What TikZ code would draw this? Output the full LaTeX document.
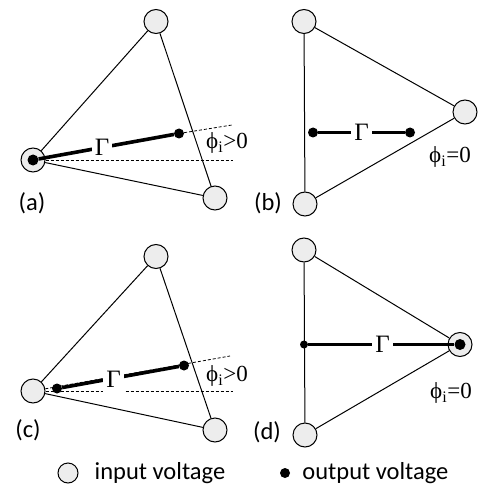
\documentclass[tikz,border=0pt]{standalone}
\usepackage{fontspec}
\setmainfont{Carlito}
\newfontfamily\greekfont{Liberation Serif}
\usetikzlibrary{positioning}

\begin{document}
\begin{tikzpicture}[x=1pt,y=-1pt,
  vin/.style={circle,draw,line width=1pt,fill=black!7,minimum size=24pt,inner sep=0pt},
  vout/.style={circle,fill=black,minimum size=10pt,inner sep=0pt},
  edge/.style={line width=1pt},
  gline/.style={line width=3.6pt},
  guide/.style={line width=0.8pt,dash pattern=on 3pt off 2pt},
  gam/.style={font=\greekfont\fontsize{25}{27}\selectfont,fill=white,inner ysep=0pt,inner xsep=3pt},
  phase/.style={font=\greekfont\fontsize{23}{25}\selectfont,inner sep=0pt},
  tag/.style={font=\fontsize{24.5}{28}\selectfont,inner sep=0pt}]
  \useasboundingbox (0,0) rectangle (477,489);

  % (a)
  \node[vin] (A1) at (156,21.5) {};
  \node[vin] (A2) at (33,160) {};
  \node[vin] (A3) at (215,198) {};
  \coordinate (aH) at (233,160);
  \coordinate (aS) at (232,125);
  \draw[edge] (A1) -- (A2) -- (A3) -- (A1);
  \draw[guide] (A2) -- (aH);
  \node[vout,minimum size=11pt] (a0) at (A2) {};
  \node[vout] (a1) at (179,133.5) {};
  \draw[guide] (a1) -- (aS);
  \draw[gline] (a0) -- node[gam,pos=0.47]{Γ} (a1);
  \node[phase] (pa) at (227,143) {ϕ\textsubscript{i}>0};
  \node[tag] (la) at (32,203) {(a)};

  % (b)
  \node[vin] (B1) at (304,21.5) {};
  \node[vin] (B2) at (465,112) {};
  \node[vin] (B3) at (305,204) {};
  \draw[edge] (B1) -- (B2) -- (B3) -- (B1);
  \node[vout] (b0) at (313,132.5) {};
  \node[vout] (b1) at (410,132.5) {};
  \draw[gline] (b0) -- node[gam]{Γ} (b1);
  \node[phase] (pb) at (450,157) {ϕ\textsubscript{i}=0};
  \node[tag] (lb) at (268,203) {(b)};

  % (c)
  \node[vin] (C1) at (156,256.5) {};
  \node[vin] (C2) at (33,391) {};
  \node[vin] (C3) at (215,430) {};
  \coordinate (cH) at (233,391);
  \coordinate (cS) at (230,356);
  \draw[edge] (C1) -- (C2) -- (C3) -- (C1);
  \draw[guide] (C2) -- (cH);
  \draw[guide] (C2) -- (cS);
  \node[vout] (c0) at (57,388.5) {};
  \node[vout] (c1) at (184,365.5) {};
  \draw[gline] (c0) -- node[gam,pos=0.44,minimum height=28pt,yshift=-1pt]{Γ} (c1);
  \node[phase] (pc) at (227,376) {ϕ\textsubscript{i}>0};
  \node[tag] (lc) at (28,430) {(c)};

  % (d)
  \node[vin] (D1) at (304,250) {};
  \node[vin] (D2) at (460,344.5) {};
  \node[vin] (D3) at (305,435) {};
  \draw[edge] (D1) -- (D2) -- (D3) -- (D1);
  \node[vout,minimum size=8pt] (d0) at (304,344.5) {};
  \node[vout,minimum size=11pt] (d1) at (D2) {};
  \draw[gline] (d0) -- node[gam,pos=0.51]{Γ} (d1);
  \node[phase] (pd) at (451,393) {ϕ\textsubscript{i}=0};
  \node[tag] (ld) at (267,432) {(d)};

  % legend
  \node[vin,minimum size=20pt] (kin) at (68,473) {};
  \node[tag,right=16pt of kin] (tin) {input voltage};
  \node[vout] (kout) at (285,473) {};
  \node[tag,right=12pt of kout] (tout) {output voltage};
\end{tikzpicture}
\end{document}
